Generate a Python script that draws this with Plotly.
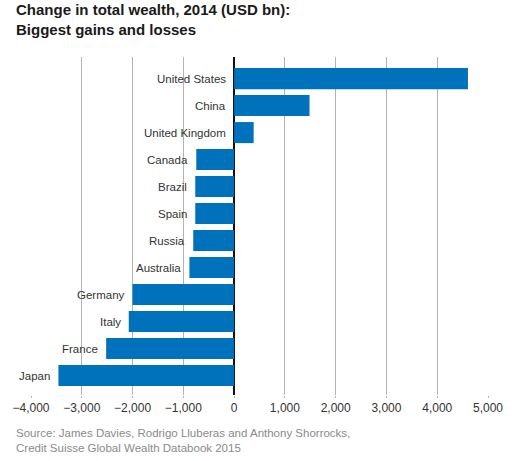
import plotly.graph_objects as go

countries = ["United States", "China", "United Kingdom", "Canada", "Brazil", "Spain",
             "Russia", "Australia", "Germany", "Italy", "France", "Japan"]
change = [4605, 1485, 385, -745, -765, -765, -805, -880, -2000, -2075, -2520, -3460]

tick_vals = [-4000, -3000, -2000, -1000, 0, 1000, 2000, 3000, 4000, 5000]

bar_color = "#0072BC"
font_name = "Liberation Sans, Arial, sans-serif"

fig = go.Figure()
fig.add_trace(go.Bar(
    x=change,
    y=countries,
    orientation="h",
    marker=dict(color=bar_color, line=dict(width=0)),
    hoverinfo="x+y",
))

# country names sit just left of each bar's left end
for c, v in zip(countries, change):
    fig.add_annotation(
        x=min(v, 0), y=c, xref="x", yref="y",
        text=c, showarrow=False, xanchor="right", xshift=-6,
        font=dict(family=font_name, size=11.5, color="#333333"),
    )

# title block
fig.add_annotation(
    xref="paper", yref="paper", x=-0.0365, y=1.1095,
    xanchor="left", yanchor="middle", align="left",
    text="<b>Change in total wealth, 2014 (USD bn):<br>Biggest gains and losses</b>",
    showarrow=False,
    font=dict(family=font_name, size=15, color="#1a1a1a"),
)

# source note
fig.add_annotation(
    xref="paper", yref="paper", x=-0.0365, y=-0.1346,
    xanchor="left", yanchor="middle", align="left",
    text="Source: James Davies, Rodrigo Lluberas and Anthony Shorrocks,<br>"
         "Credit Suisse Global Wealth Databook 2015",
    showarrow=False,
    font=dict(family=font_name, size=11.5, color="#8a8a8a"),
)

fig.update_layout(
    width=515, height=461,
    margin=dict(l=25, r=24, t=57, b=66),
    paper_bgcolor="white", plot_bgcolor="white",
    bargap=0.22,
    showlegend=False,
    xaxis=dict(
        range=[-4000, 5000],
        tickvals=tick_vals,
        tickformat=",",
        showgrid=True, gridcolor="#b3b3b3", gridwidth=1,
        zeroline=True, zerolinecolor="#111111", zerolinewidth=2,
        ticks="outside", ticklen=2, tickcolor="#b3b3b3",
        showline=False,
        tickfont=dict(family=font_name, size=12, color="#333333"),
    ),
    yaxis=dict(
        autorange=False,
        range=[11.72, -0.8],
        showticklabels=False,
        showgrid=False, zeroline=False, showline=False,
    ),
)

# drop the default 8px body margin so the figure fills the window
fig.write_html("out.html", config={"displayModeBar": False},
               post_script="document.body.style.margin='0';")
